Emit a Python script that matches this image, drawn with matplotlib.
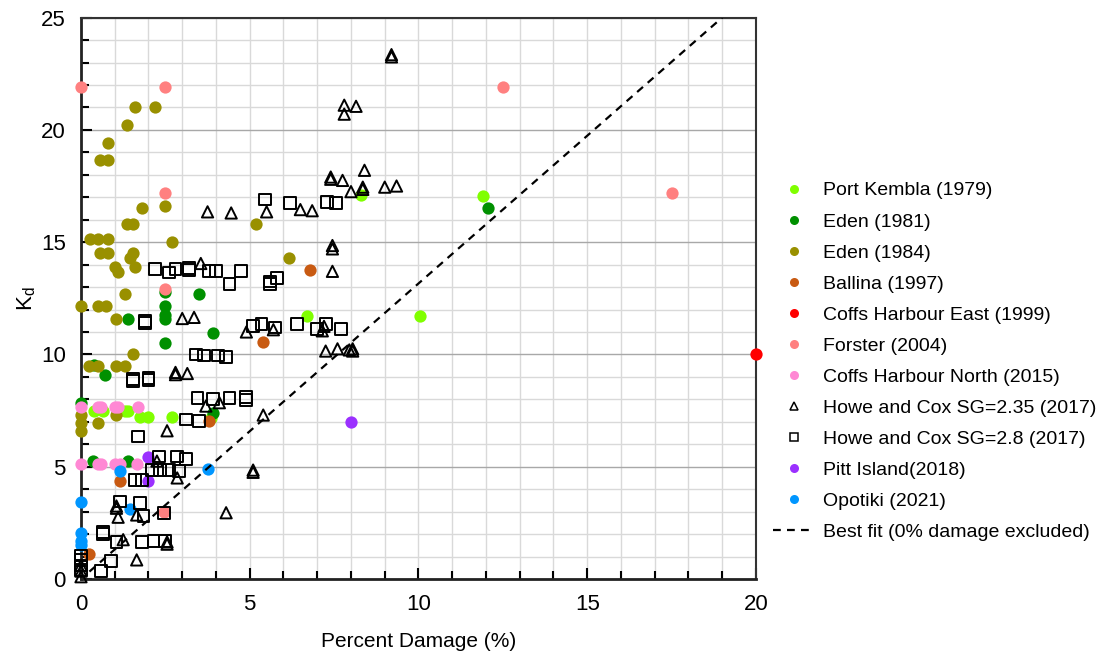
import matplotlib
matplotlib.use("Agg")
import matplotlib.pyplot as plt
from matplotlib.lines import Line2D
import numpy as np

plt.rcParams['font.family'] = ['Liberation Sans', 'DejaVu Sans']

# (percent damage, Kd)
port_kembla = [(8.3, 17.1), (11.9, 17.05), (6.7, 11.7), (10.05, 11.7), (0.4, 7.5), (0.65, 7.5),
               (1.3, 7.5), (1.4, 7.5), (1.75, 7.2), (2.0, 7.2), (2.7, 7.2), (3.85, 7.15)]
eden_1981 = [(2.5, 12.8), (3.5, 12.7), (2.5, 12.15), (2.5, 11.75), (2.5, 11.6), (1.4, 11.6),
             (3.9, 10.95), (2.5, 10.5), (0.4, 9.55), (0.7, 9.1), (0.0, 7.85), (3.9, 7.4),
             (0.35, 5.25), (1.4, 5.25), (12.05, 16.5)]
eden_1984 = [(1.6, 21.0), (2.2, 21.0), (1.35, 20.2), (0.8, 19.4), (0.55, 18.65), (0.8, 18.65),
             (2.5, 16.6), (1.8, 16.5), (1.35, 15.8), (1.55, 15.8), (0.27, 15.15), (0.51, 15.15),
             (0.81, 15.15), (2.7, 15.0), (0.55, 14.5), (0.8, 14.5), (1.45, 14.3), (1.55, 14.5),
             (1.0, 13.9), (1.1, 13.65), (1.6, 13.9), (1.3, 12.7), (0.0, 12.15), (0.5, 12.15),
             (0.75, 12.15), (1.05, 11.6), (1.55, 10.0), (0.25, 9.5), (0.5, 9.5), (1.05, 9.5),
             (1.3, 9.5), (0.0, 7.3), (0.0, 6.95), (0.0, 6.6), (0.5, 6.95), (1.05, 7.3),
             (5.2, 15.8), (6.15, 14.3)]
ballina = [(6.8, 13.75), (5.4, 10.55), (3.8, 7.05), (1.15, 4.35), (0.25, 1.1)]
coffs_east = [(20.0, 10.0)]
forster = [(0.0, 21.9), (2.5, 21.9), (12.5, 21.9), (2.5, 17.2), (17.5, 17.2), (2.5, 12.9),
           (2.45, 3.0)]
coffs_north = [(0.0, 7.65), (0.5, 7.65), (0.6, 7.65), (1.0, 7.65), (1.1, 7.65), (1.7, 7.65),
               (0.0, 5.1), (0.5, 5.1), (0.6, 5.1), (1.0, 5.1), (1.15, 5.1), (1.65, 5.1)]
howe_235 = [(9.2, 23.25), (9.2, 23.35), (7.8, 21.1), (8.15, 21.05), (7.8, 20.7), (8.4, 18.2),
            (7.4, 17.9), (7.4, 17.8), (7.75, 17.75), (8.35, 17.45), (8.35, 17.35), (8.0, 17.25),
            (9.0, 17.45), (9.35, 17.5), (3.75, 16.35), (4.45, 16.3), (5.5, 16.35), (6.5, 16.45),
            (6.85, 16.4), (7.45, 14.85), (7.45, 14.7), (7.45, 13.7), (3.55, 14.05), (3.0, 11.6),
            (3.35, 11.65), (4.9, 11.0), (5.7, 11.1), (7.15, 11.05), (7.2, 11.25), (7.25, 10.15),
            (7.6, 10.25), (7.95, 10.2), (8.05, 10.15), (8.05, 10.25), (2.8, 9.1), (2.8, 9.2),
            (3.15, 9.15), (3.7, 7.7), (4.1, 7.85), (5.4, 7.3), (2.55, 6.6), (2.25, 5.25),
            (2.85, 4.5), (5.1, 4.85), (5.1, 4.75), (1.05, 3.25), (1.05, 3.15), (1.1, 2.75),
            (1.65, 2.85), (4.3, 2.95), (1.25, 1.75), (2.55, 1.65), (2.55, 1.55), (1.65, 0.85),
            (0.0, 0.6), (0.0, 0.35), (0.0, 0.1)]
howe_28 = [(5.45, 16.9), (6.2, 16.75), (7.3, 16.8), (7.55, 16.75), (2.2, 13.8), (2.6, 13.65),
           (2.8, 13.8), (3.2, 13.85), (3.2, 13.75), (3.8, 13.7), (4.0, 13.7), (4.75, 13.7),
           (4.4, 13.15), (5.8, 13.4), (5.6, 13.25), (5.6, 13.15), (1.9, 11.5), (1.9, 11.4),
           (5.1, 11.25), (5.35, 11.35), (5.75, 11.2), (6.4, 11.35), (7.0, 11.15), (7.25, 11.35),
           (7.7, 11.15), (3.4, 10.0), (3.65, 9.95), (4.05, 9.95), (4.3, 9.9), (1.55, 8.9),
           (1.55, 8.8), (2.0, 8.95), (2.0, 8.85), (3.45, 8.05), (3.9, 8.0), (4.4, 8.05),
           (4.9, 8.1), (4.9, 7.98), (3.1, 7.1), (3.5, 7.05), (1.7, 6.35), (2.3, 5.45),
           (2.85, 5.45), (3.1, 5.35), (2.1, 4.85), (2.35, 4.85), (2.6, 4.85), (2.9, 4.8),
           (1.6, 4.4), (1.8, 4.4), (1.15, 3.45), (1.75, 3.4), (1.85, 2.8), (2.45, 2.95),
           (0.65, 2.1), (0.65, 2.0), (1.05, 1.65), (1.8, 1.65), (2.15, 1.7), (2.5, 1.7),
           (0.9, 0.8), (0.6, 0.35), (0.0, 1.05), (0.0, 0.85), (0.0, 0.6), (0.0, 0.4)]
pitt_island = [(8.0, 7.0), (2.0, 5.45), (2.0, 4.35)]
opotiki = [(0.0, 3.45), (1.15, 4.8), (3.75, 4.9), (1.45, 3.1), (0.0, 2.05), (0.0, 1.7), (0.0, 1.5)]

# best fit line (0% damage excluded)
fit_slope = 1.316
fit_x = [0.25, 19.0]

series = [
    ("Port Kembla (1979)", port_kembla, "#80ff00", "o"),
    ("Eden (1981)", eden_1981, "#009000", "o"),
    ("Eden (1984)", eden_1984, "#999000", "o"),
    ("Ballina (1997)", ballina, "#c85a12", "o"),
    ("Coffs Harbour East (1999)", coffs_east, "#ff0000", "o"),
    ("Forster (2004)", forster, "#ff8080", "o"),
    ("Coffs Harbour North (2015)", coffs_north, "#ff88d4", "o"),
    ("Howe and Cox SG=2.35 (2017)", howe_235, "black", "^"),
    ("Howe and Cox SG=2.8 (2017)", howe_28, "black", "s"),
    ("Pitt Island(2018)", pitt_island, "#9b30ff", "o"),
    ("Opotiki (2021)", opotiki, "#0096ff", "o"),
]

fig = plt.figure(figsize=(11.02, 6.62), dpi=100)
ax = fig.add_axes([0.0735, 0.1254, 0.6125, 0.848])

handles = []
for name, pts, col, mk in series:
    arr = np.array(pts)
    if mk == "o":
        ax.scatter(arr[:, 0], arr[:, 1], s=78, c=col, marker="o", linewidths=0,
                   clip_on=False, zorder=3)
        handles.append(Line2D([], [], marker="o", ls="", color=col, markersize=6.5,
                              markeredgewidth=0, label=name))
    else:
        ms = 66 if mk == "^" else 72
        ax.scatter(arr[:, 0], arr[:, 1], s=ms, marker=mk, facecolors="none",
                   edgecolors="black", linewidths=1.4, clip_on=False, zorder=4)
        handles.append(Line2D([], [], marker=mk, ls="", markerfacecolor="none",
                              markeredgecolor="black", markersize=6,
                              markeredgewidth=1.1, label=name))

fx = np.array(fit_x)
ax.plot(fx, fit_slope * fx, color="black", lw=1.6, ls=(0, (3.5, 2.8)), zorder=5)
handles.append(Line2D([], [], color="black", lw=1.6, ls=(0, (3.5, 2.8)),
                      label="Best fit (0% damage excluded)"))

ax.set_xlim(0, 20)
ax.set_ylim(0, 25)
ax.set_xticks(range(0, 21, 5))
ax.set_yticks(range(0, 26, 5))
ax.set_xticks(range(0, 21), minor=True)
ax.set_yticks(range(0, 26), minor=True)
ax.grid(which="minor", color="#d9d9d9", lw=1.0, zorder=0)
ax.grid(which="major", axis="x", color="#d9d9d9", lw=1.0, zorder=0)
ax.grid(which="major", axis="y", color="#a8a8a8", lw=1.0, zorder=0)
ax.set_axisbelow(True)
ax.tick_params(which="both", direction="in", width=1.5, labelsize=16, pad=11)
ax.tick_params(which="major", length=8)
ax.tick_params(which="minor", length=6)
for side in ["left", "bottom"]:
    ax.spines[side].set_linewidth(2)
    ax.spines[side].set_color("#222222")
for side in ["top", "right"]:
    ax.spines[side].set_linewidth(1.5)
    ax.spines[side].set_color("#333333")

ax.set_xlabel("Percent Damage (%)", fontsize=15, labelpad=12)
ax.set_ylabel("K$_\\mathregular{d}$", fontsize=16, labelpad=2)

fig.legend(handles=handles, loc="upper left", bbox_to_anchor=(0.694, 0.737),
           frameon=False, fontsize=14, labelspacing=0.69, handlelength=2.2,
           handletextpad=0.4, borderaxespad=0)

fig.savefig("out.png", dpi=100)
